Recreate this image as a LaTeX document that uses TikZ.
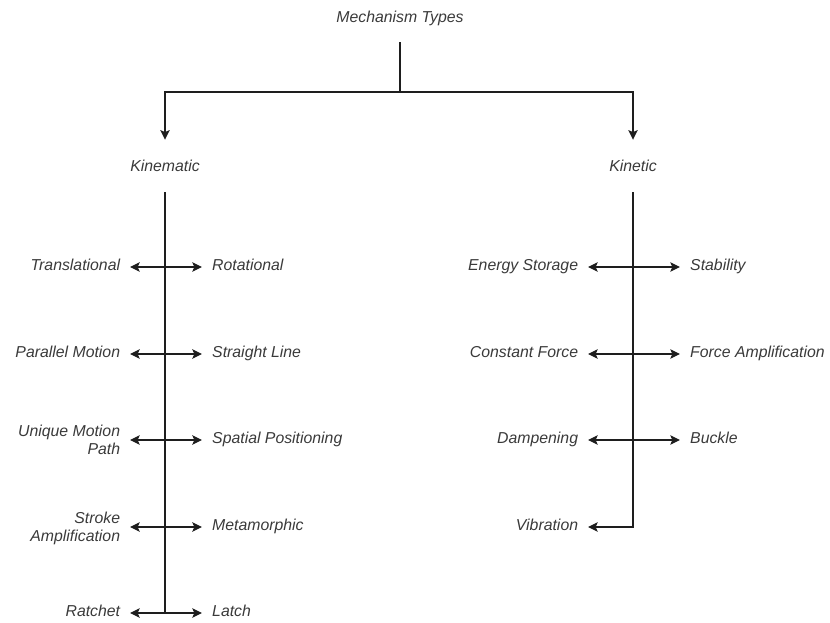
\documentclass[tikz,border=0pt]{standalone}
\usepackage{fontspec}
\setmainfont{Liberation Sans}
\usetikzlibrary{arrows.meta}
\definecolor{inkgray}{HTML}{3A3A3A}
\definecolor{linegray}{HTML}{1E1E1E}

\begin{document}
\begin{tikzpicture}[
x=0.03cm,
y=-0.03cm,
>={Stealth[length=2.9mm,width=2.8mm,inset=0.6mm]},
every node/.style={font=\fontsize{13.5}{15.3}\selectfont\itshape, text=inkgray},
head/.style={
inner sep=0pt,
minimum height=1.44cm
},
family/.style={
inner sep=0pt,
minimum height=1.56cm
},
leafl/.style={
anchor=east,
align=right,
inner xsep=0.29cm,
inner ysep=0pt,
text height=1.8ex,
text depth=0.6ex
},
leafr/.style={
anchor=west,
align=left,
inner xsep=0.3cm,
inner ysep=0pt,
text height=1.8ex,
text depth=0.6ex
},
twoline/.style={text height=28pt},
line/.style={draw=linegray, line width=0.9pt},
single/.style={line, ->},
both/.style={line, <->}
]
\useasboundingbox (0,0) rectangle (830,623);

% Nodes
\node[head] (types) at (400,18) {Mechanism Types};
\coordinate (split) at (400,92);

\node[family] (kinematic) at (165,166) {Kinematic};
\node[family] (kinetic) at (633,166) {Kinetic};

% kinematic leaves
\node[leafl] (translational) at (130,267) {Translational};
\node[leafr] (rotational) at (202,267) {Rotational};

\node[leafl] (parallel) at (130,354) {Parallel Motion};
\node[leafr] (straight) at (202,354) {Straight Line};

\node[leafl, twoline] (unique) at (130,440) {Unique Motion\\Path};
\node[leafr] (spatial) at (202,440) {Spatial Positioning};

\node[leafl, twoline] (stroke) at (130,527) {Stroke\\Amplification};
\node[leafr] (metamorphic) at (202,527) {Metamorphic};

\node[leafl] (ratchet) at (130,613) {Ratchet};
\node[leafr] (latch) at (202,613) {Latch};

% kinetic leaves
\node[leafl] (energy) at (588,267) {Energy Storage};
\node[leafr] (stability) at (680,267) {Stability};

\node[leafl] (constant) at (588,354) {Constant Force};
\node[leafr] (forceamp) at (680,354) {Force Amplification};

\node[leafl] (dampening) at (588,440) {Dampening};
\node[leafr] (buckle) at (680,440) {Buckle};

\node[leafl] (vibration) at (588,527) {Vibration};

% Connections
\draw[line] (types) -- (split);
\draw[single] (split) -| (kinematic);
\draw[single] (split) -| (kinetic);

% kinematic trunk
\draw[line] (kinematic) -- (kinematic |- ratchet);
\draw[both] (translational) -- (rotational);
\draw[both] (parallel) -- (straight);
\draw[both] (unique) -- (spatial);
\draw[both] (stroke) -- (metamorphic);
\draw[both] (ratchet) -- (latch);

% kinetic trunk
\draw[both] (energy) -- (stability);
\draw[both] (constant) -- (forceamp);
\draw[both] (dampening) -- (buckle);
\draw[single] (kinetic) |- (vibration);

\end{tikzpicture}
\end{document}
